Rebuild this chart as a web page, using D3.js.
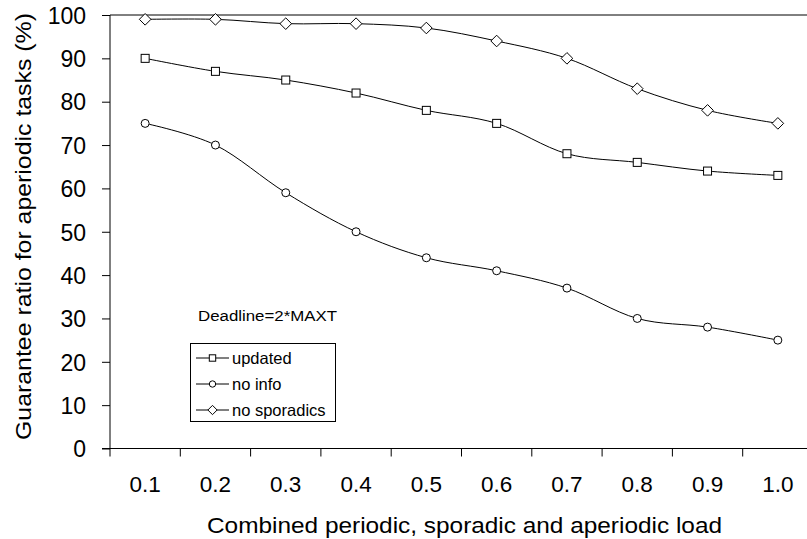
<!DOCTYPE html>
<html><head><meta charset="utf-8">
<script src="https://cdn.jsdelivr.net/npm/d3@7"></script>
<style>body{margin:0;background:#fff}svg{display:block}text{font-family:"Liberation Sans",Arial,sans-serif;fill:#000}</style>
</head><body>
<svg id="c" width="807" height="539"></svg>
<script>
const categories = ["0.1","0.2","0.3","0.4","0.5","0.6","0.7","0.8","0.9","1.0"];
const updated = [90, 87, 85, 82, 78, 75, 68, 66, 64, 63];
const noInfo = [75, 70, 59, 50, 44, 41, 37, 30, 28, 25];
const noSporadics = [99, 99, 98, 98, 97, 94, 90, 83, 78, 75];
const yTicks = [0,10,20,30,40,50,60,70,80,90,100];
const seriesNames = ["updated", "no info", "no sporadics"];

const svg = d3.select("#c");
const x = d3.scaleBand().domain(categories).range([110, 813]);
const y = d3.scaleLinear().domain([0, 100]).range([448.5, 15]);

// axes
const yAxis = d3.axisLeft(y).tickValues(yTicks).tickSize(8).tickPadding(16);
const gy = svg.append("g").attr("transform", "translate(110,0)").call(yAxis);
gy.selectAll("text").style("font-size", "23px").attr("dy", "0.36em");
gy.select(".domain").attr("d", "M0,448.5V15");

const xAxis = d3.axisBottom(x).tickSize(0).tickPadding(28);
const gx = svg.append("g").attr("transform", "translate(0,448.5)").call(xAxis);
gx.selectAll("text").style("font-size", "22.5px");
gx.select(".domain").remove();
gx.append("line").attr("x1", 102).attr("x2", 813).attr("stroke", "#000");
const bounds = categories.map(c => x(c));
gx.selectAll(".bt").data(bounds).enter().append("line")
  .attr("x1", d => d).attr("x2", d => d).attr("y1", 0).attr("y2", 8).attr("stroke", "#000");

// top border line
svg.append("line").attr("x1", 110).attr("x2", 813).attr("y1", y(100)).attr("y2", y(100)).attr("stroke", "#000");

// axis titles
svg.append("text").attr("transform", "translate(31,226.5) rotate(-90)")
  .attr("text-anchor", "middle").style("font-size", "22.5px")
  .attr("textLength", 427).attr("lengthAdjust", "spacingAndGlyphs")
  .text("Guarantee ratio for aperiodic tasks (%)");
svg.append("text").attr("x", 464.5).attr("y", 532.5).attr("text-anchor", "middle")
  .style("font-size", "22px")
  .attr("textLength", 515).attr("lengthAdjust", "spacingAndGlyphs")
  .text("Combined periodic, sporadic and aperiodic load");

// lines
const cx = c => x(c) + x.bandwidth() / 2;
const line = d3.line().x((d, i) => cx(categories[i])).y(d => y(d)).curve(d3.curveCatmullRom.alpha(0));
const allSeries = [updated, noInfo, noSporadics];
const shapes = ["square", "circle", "diamond"];

function marker(g, shape, px, py, s) {
  if (shape === "square") {
    const h = 4 * s;
    g.append("rect").attr("x", px - h).attr("y", py - h).attr("width", 2 * h).attr("height", 2 * h)
      .attr("fill", "#fff").attr("stroke", "#000");
  } else if (shape === "circle") {
    g.append("circle").attr("cx", px).attr("cy", py).attr("r", 4 * s).attr("fill", "#fff").attr("stroke", "#000");
  } else {
    const h = 5.8 * s;
    g.append("path").attr("d", `M${px},${py-h}L${px+h},${py}L${px},${py+h}L${px-h},${py}Z`)
      .attr("fill", "#fff").attr("stroke", "#000");
  }
}

allSeries.forEach((s, k) => {
  svg.append("path").attr("d", line(s)).attr("fill", "none").attr("stroke", "#000").attr("stroke-width", 1);
  const g = svg.append("g");
  s.forEach((v, i) => marker(g, shapes[k], cx(categories[i]), y(v), 1));
});

// annotation
svg.append("text").attr("x", 198).attr("y", 321).style("font-size", "15.5px")
  .attr("textLength", 139).attr("lengthAdjust", "spacingAndGlyphs").text("Deadline=2*MAXT");

// legend
const lg = svg.append("g");
lg.append("rect").attr("x", 190.5).attr("y", 343.5).attr("width", 145).attr("height", 78)
  .attr("fill", "#fff").attr("stroke", "#000");
const ly = [358, 384, 410];
seriesNames.forEach((n, k) => {
  lg.append("line").attr("x1", 196).attr("x2", 229).attr("y1", ly[k]).attr("y2", ly[k]).attr("stroke", "#000");
  marker(lg, shapes[k], 212.5, ly[k], 0.8);
  lg.append("text").attr("x", 232).attr("y", ly[k]).attr("dy", "0.35em").style("font-size", "16.5px").text(n);
});
</script>
</body></html>
